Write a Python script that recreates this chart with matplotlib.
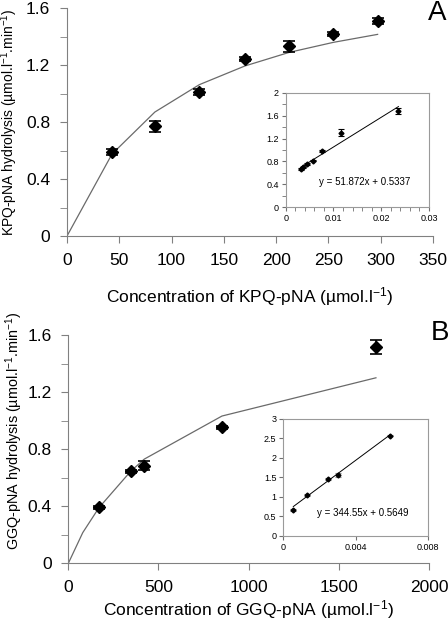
import matplotlib
matplotlib.use('Agg')
import matplotlib.pyplot as plt
from matplotlib.ticker import MultipleLocator

plt.rcParams['font.family'] = ['Liberation Sans', 'DejaVu Sans']
plt.rcParams['mathtext.fontset'] = 'custom'
plt.rcParams['mathtext.rm'] = 'Liberation Sans'
plt.rcParams['mathtext.it'] = 'Liberation Sans:italic'
plt.rcParams['mathtext.bf'] = 'Liberation Sans:bold'
plt.rcParams['mathtext.default'] = 'rm'

# Panel A: KPQ-pNA
kpq_conc = [43, 84, 126.5, 170, 212.6, 254.7, 297]
kpq_rate = [0.59, 0.77, 1.01, 1.242, 1.33, 1.42, 1.51]
kpq_err = [0.02, 0.04, 0.02, 0.015, 0.04, 0.015, 0.02]
kpq_fit_x = [0, 43, 84, 126.5, 170, 212.6, 254.7, 297]
kpq_fit_y = [0, 0.575, 0.87, 1.062, 1.193, 1.289, 1.359, 1.415]

# inset A (double reciprocal)
kpq_inv_x = [0.0032, 0.0037, 0.0045, 0.0058, 0.0077, 0.0115, 0.0236]
kpq_inv_y = [0.669, 0.70, 0.756, 0.814, 0.988, 1.302, 1.68]
kpq_inv_err = [0.01, 0.01, 0.01, 0.01, 0.02, 0.06, 0.06]
kpq_line_x = [0.0032, 0.0236]
kpq_line_y = [0.700, 1.758]
kpq_eq = 'y = 51.872x + 0.5337'

# Panel B: GGQ-pNA
ggq_conc = [170, 346, 421, 854, 1706]
ggq_rate = [0.392, 0.645, 0.684, 0.953, 1.518]
ggq_err = [0.01, 0.01, 0.03, 0.01, 0.05]
ggq_fit_x = [0, 80, 170, 346, 421, 852, 1706]
ggq_fit_y = [0, 0.215, 0.39, 0.645, 0.73, 1.032, 1.30]

# inset B
ggq_inv_x = [0.00055, 0.00131, 0.00246, 0.00304, 0.00589]
ggq_inv_y = [0.667, 1.05, 1.46, 1.56, 2.573]
ggq_inv_err = [0.02, 0.02, 0.03, 0.05, 0.02]
ggq_line_x = [0.00055, 0.00589]
ggq_line_y = [0.754, 2.594]
ggq_eq = 'y = 344.55x + 0.5649'

main_yticks = [0, 0.4, 0.8, 1.2, 1.6]
main_ylabels = ['0', '0.4', '0.8', '1.2', '1.6']

SPINE = '#808080'


def style_main(ax):
    for s in ['top', 'right']:
        ax.spines[s].set_visible(False)
    for s in ['left', 'bottom']:
        ax.spines[s].set_color(SPINE)
    ax.tick_params(which='both', direction='out', color=SPINE, labelsize=12.5)
    ax.tick_params(which='major', length=5, pad=7)
    ax.tick_params(which='minor', length=5)


def style_inset(ax):
    for s in ax.spines.values():
        s.set_color('#9a9a9a')
        s.set_linewidth(0.8)
    ax.tick_params(which='both', direction='out', color='#707070', labelsize=6.5,
                   length=3, pad=2)


fig = plt.figure(figsize=(4.48, 6.26), dpi=100)

# ---- A ----
axA = fig.add_axes([0.1496, 0.623, 0.817, 0.3642])
axA.plot(kpq_fit_x, kpq_fit_y, color='#6a6a6a', lw=0.9)
axA.errorbar(kpq_conc, kpq_rate, yerr=kpq_err, fmt='D', color='black', ms=6.5,
             capsize=4, elinewidth=1.2, capthick=1.2)
axA.set_xlim(0, 350)
axA.set_ylim(0, 1.6)
axA.set_xticks(range(0, 351, 50))
axA.set_yticks(main_yticks, main_ylabels)
axA.yaxis.set_minor_locator(MultipleLocator(0.2))
style_main(axA)
axA.set_xlabel('Concentration of KPQ-pNA (µmol.l$^{-1}$)', fontsize=12.5)
axA.xaxis.set_label_coords(0.5, -0.215)
axA.set_ylabel('KPQ-pNA hydrolysis (µmol.l$^{-1}$.min$^{-1}$)', fontsize=10)
axA.yaxis.set_label_coords(-0.128, 0.5)
fig.text(0.975, 0.979, 'A', fontsize=20, ha='center', va='center')

insA = fig.add_axes([0.6377, 0.6688, 0.320, 0.1831])
insA.errorbar(kpq_inv_x, kpq_inv_y, yerr=kpq_inv_err, fmt='D', color='black', ms=2.5,
              capsize=2, elinewidth=0.8, capthick=0.8)
insA.plot(kpq_line_x, kpq_line_y, color='black', lw=0.7)
insA.set_xlim(0, 0.03)
insA.set_ylim(0, 2)
insA.set_xticks([0, 0.01, 0.02, 0.03], ['0', '0.01', '0.02', '0.03'])
insA.xaxis.set_minor_locator(MultipleLocator(0.002))
insA.set_yticks([0, 0.4, 0.8, 1.2, 1.6, 2], ['0', '0.4', '0.8', '1.2', '1.6', '2'])
insA.yaxis.set_minor_locator(MultipleLocator(0.2))
style_inset(insA)
insA.text(0.0166, 0.447, kpq_eq, fontsize=7, ha='center', va='center')

# ---- B ----
axB = fig.add_axes([0.1525, 0.1001, 0.805, 0.3648])
axB.plot(ggq_fit_x, ggq_fit_y, color='#6a6a6a', lw=0.9)
axB.errorbar(ggq_conc, ggq_rate, yerr=ggq_err, fmt='D', color='black', ms=6.5,
             capsize=4, elinewidth=1.2, capthick=1.2)
axB.set_xlim(0, 2000)
axB.set_ylim(0, 1.6)
axB.set_xticks(range(0, 2001, 500))
axB.set_yticks(main_yticks, main_ylabels)
axB.yaxis.set_minor_locator(MultipleLocator(0.2))
style_main(axB)
axB.set_xlabel('Concentration of GGQ-pNA (µmol.l$^{-1}$)', fontsize=12.5)
axB.xaxis.set_label_coords(0.5, -0.152)
axB.set_ylabel('GGQ-pNA hydrolysis (µmol.l$^{-1}$.min$^{-1}$)', fontsize=10.4)
axB.yaxis.set_label_coords(-0.12, 0.58)
fig.text(0.982, 0.468, 'B', fontsize=20, ha='center', va='center')

insB = fig.add_axes([0.6324, 0.1438, 0.3237, 0.1869])
insB.errorbar(ggq_inv_x, ggq_inv_y, yerr=ggq_inv_err, fmt='D', color='black', ms=2.5,
              capsize=2, elinewidth=0.8, capthick=0.8, ecolor='#888888')
insB.plot(ggq_line_x, ggq_line_y, color='black', lw=0.7)
insB.set_xlim(0, 0.008)
insB.set_ylim(0, 3)
insB.set_xticks([0, 0.004, 0.008], ['0', '0.004', '0.008'])
insB.set_yticks([0, 0.5, 1, 1.5, 2, 2.5, 3], ['0', '0.5', '1', '1.5', '2', '2.5', '3'])
style_inset(insB)
insB.text(0.00438, 0.582, ggq_eq, fontsize=7, ha='center', va='center')

fig.savefig('out.png', dpi=100)
